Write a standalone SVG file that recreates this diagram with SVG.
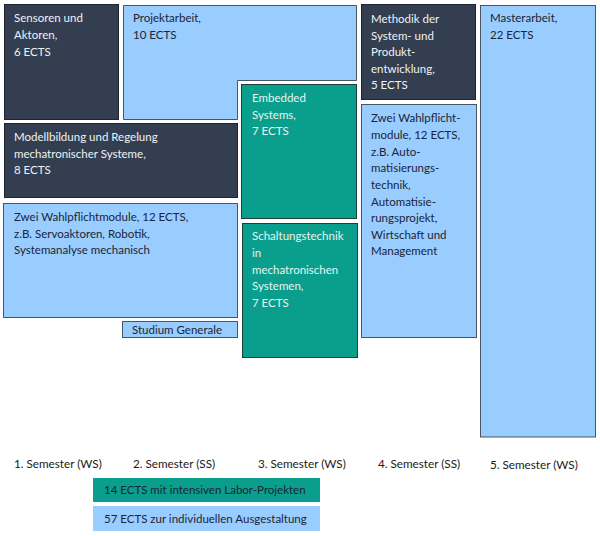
<svg xmlns="http://www.w3.org/2000/svg" width="600" height="536" viewBox="0 0 600 536">
<style>
text{font-family:Lato,"Liberation Sans",sans-serif;font-size:11.5px}
.dark{fill:#333F50;stroke:#1E2530;stroke-width:1}
.blue{fill:#99CCFF;stroke:#4A5563;stroke-width:1}
.teal{fill:#0A9E8C;stroke:#1F3F3A;stroke-width:1}
.tw{fill:#EEF2F6}
.tt{fill:#E6F4F1}
.tb{fill:#1B2535}
.lab{fill:#1A1A1A;font-size:11.7px}
</style>
<rect width="600" height="536" fill="#FFFFFF"/>
<g id="sensoren">
<rect class="dark" x="4.5" y="4.5" width="114" height="115"/>
<text class="tw"><tspan x="14" y="22">Sensoren und</tspan><tspan x="14" y="39">Aktoren,</tspan><tspan x="14" y="56">6 ECTS</tspan></text>
</g>
<g id="projektarbeit">
<path class="blue" d="M123.5,5.5 H356.5 V80.5 H237.5 V119.5 H123.5 Z"/>
<text class="tb"><tspan x="133" y="22">Projektarbeit,</tspan><tspan x="133" y="39">10 ECTS</tspan></text>
</g>
<g id="methodik">
<rect class="dark" x="361.5" y="4.5" width="114" height="95"/>
<text class="tw"><tspan x="371" y="23">Methodik der</tspan><tspan x="371" y="39.5">System- und</tspan><tspan x="371" y="56">Produkt-</tspan><tspan x="371" y="72.5">entwicklung,</tspan><tspan x="371" y="89">5 ECTS</tspan></text>
</g>
<g id="masterarbeit">
<rect class="blue" x="480.5" y="5.5" width="115" height="431.5"/>
<text class="tb"><tspan x="490" y="22">Masterarbeit,</tspan><tspan x="490" y="39">22 ECTS</tspan></text>
</g>
<g id="embedded">
<rect class="teal" x="241.5" y="84.5" width="115" height="134"/>
<text class="tt"><tspan x="252" y="102">Embedded</tspan><tspan x="252" y="118.5">Systems,</tspan><tspan x="252" y="135">7 ECTS</tspan></text>
</g>
<g id="modellbildung">
<rect class="dark" x="4.5" y="123.5" width="233" height="74"/>
<text class="tw"><tspan x="14" y="141">Modellbildung und Regelung</tspan><tspan x="14" y="157.5">mechatronischer Systeme,</tspan><tspan x="14" y="174">8 ECTS</tspan></text>
</g>
<g id="wahlpflicht1">
<rect class="blue" x="3.5" y="203.5" width="234" height="114"/>
<text class="tb"><tspan x="14" y="221">Zwei Wahlpflichtmodule, 12 ECTS,</tspan><tspan x="14" y="237.5">z.B. Servoaktoren, Robotik,</tspan><tspan x="14" y="254">Systemanalyse mechanisch</tspan></text>
</g>
<g id="studium">
<rect class="blue" x="122.5" y="321.5" width="115" height="16"/>
<text class="tb" x="132" y="333.5">Studium Generale</text>
</g>
<g id="schaltung">
<rect class="teal" x="242.5" y="223.5" width="115" height="134"/>
<text class="tt"><tspan x="252" y="240">Schaltungstechnik</tspan><tspan x="252" y="257">in</tspan><tspan x="252" y="273.5">mechatronischen</tspan><tspan x="252" y="290">Systemen,</tspan><tspan x="252" y="307">7 ECTS</tspan></text>
</g>
<g id="wahlpflicht4">
<rect class="blue" x="361.5" y="104.5" width="115" height="233"/>
<text class="tb"><tspan x="371" y="122">Zwei Wahlpflicht-</tspan><tspan x="371" y="139">module, 12 ECTS,</tspan><tspan x="371" y="155.5">z.B. Auto-</tspan><tspan x="371" y="172">matisierungs-</tspan><tspan x="371" y="189">technik,</tspan><tspan x="371" y="205.5">Automatisie-</tspan><tspan x="371" y="222">rungsprojekt,</tspan><tspan x="371" y="238.5">Wirtschaft und</tspan><tspan x="371" y="255">Management</tspan></text>
</g>
<g id="semester">
<text class="lab" x="14" y="468">1. Semester (WS)</text>
<text class="lab" x="133" y="468">2. Semester (SS)</text>
<text class="lab" x="258" y="468">3. Semester (WS)</text>
<text class="lab" x="378" y="468">4. Semester (SS)</text>
<text class="lab" x="490" y="469">5. Semester (WS)</text>
</g>
<g id="legend">
<rect x="93" y="478" width="227" height="24" fill="#0A9E8C"/>
<text class="tb" x="104" y="494">14 ECTS mit intensiven Labor-Projekten</text>
<rect x="93" y="506" width="227" height="25" fill="#99CCFF"/>
<text class="tb" x="104" y="523">57 ECTS zur individuellen Ausgestaltung</text>
</g>
<g id="connectors"/>
</svg>
